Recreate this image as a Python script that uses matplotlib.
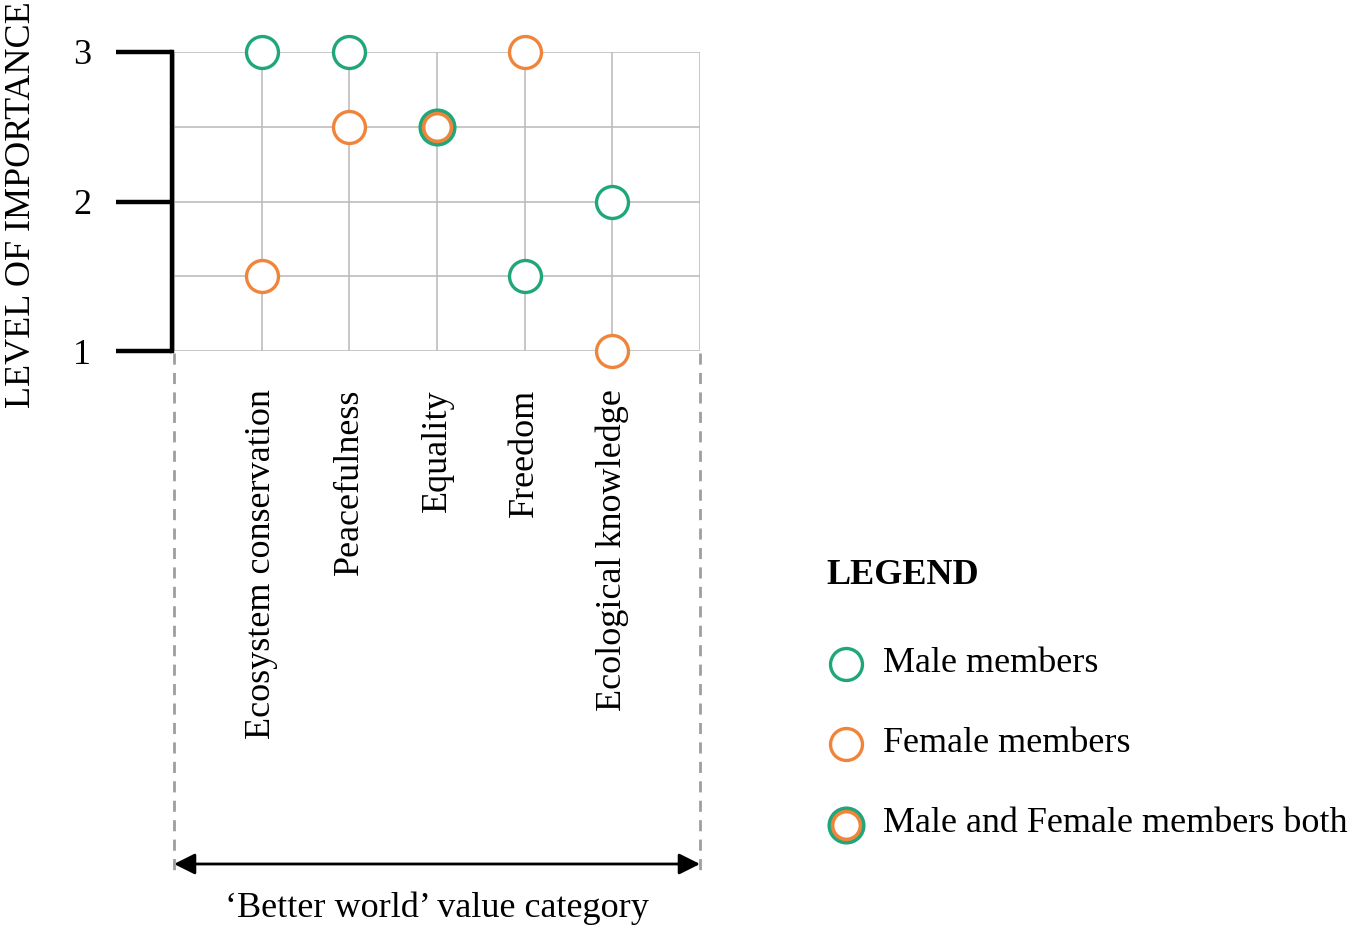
import numpy as np
import matplotlib.pyplot as plt
import matplotlib.transforms as mtransforms
from matplotlib.lines import Line2D

plt.rcParams['font.family'] = ['Liberation Serif', 'DejaVu Serif']

categories = ["Ecosystem conservation", "Peacefulness", "Equality", "Freedom", "Ecological knowledge"]
male = [3, 3, 2.5, 1.5, 2]
female = [1.5, 2.5, 2.5, 3, 1]
y_ticks = [1, 2, 3]

green = '#1fa67a'
orange = '#f0843a'
FS = 26

W, H = 1355, 936
fig = plt.figure(figsize=(W / 100, H / 100), dpi=100)


# pixel -> figure fraction helpers
def fx(px):
    return px / W


def fy(py):
    return 1 - py / H


def both_marker(x, y, transform=None, **kw):
    # green ring with an orange ring inside it
    args = dict(marker='o', clip_on=False)
    if transform is not None:
        args['transform'] = transform
    a = Line2D([x], [y], ms=24, mfc='white', mec=green, mew=3.4, zorder=3, **args)
    b = Line2D([x], [y], ms=20, mfc='none', mec=orange, mew=2.6, zorder=4, **args)
    return a, b


ax = fig.add_axes([fx(174), fy(351), fx(700) - fx(174), fy(52) - fy(351)])
xs = np.arange(1, len(categories) + 1)
ax.set_xlim(0, len(categories) + 1)
ax.set_ylim(1, 3)

# grid
for gx in range(0, len(categories) + 2):
    ax.axvline(gx, color='#bdbdbd', lw=1.2, zorder=1)
for gy in np.arange(1, 3.01, 0.5):
    ax.axhline(gy, color='#bdbdbd', lw=1.2, zorder=1)

# points
for x, m, f in zip(xs, male, female):
    if m == f:
        for art in both_marker(x, m, transform=ax.transData):
            ax.add_line(art)
    else:
        ax.plot(x, m, 'o', ms=23, mfc='white', mec=green, mew=2.4, clip_on=False, zorder=3)
        ax.plot(x, f, 'o', ms=23, mfc='white', mec=orange, mew=2.4, clip_on=False, zorder=3)

# bracket style y axis
for s in ['top', 'right', 'bottom']:
    ax.spines[s].set_visible(False)
ax.spines['left'].set_linewidth(3.2)
ax.spines['left'].set_color('black')
ax.spines['left'].set_position(('outward', 1.5))
ax.set_yticks(y_ticks)
ax.set_yticklabels([str(t) for t in y_ticks], fontsize=FS)
ax.tick_params(axis='y', length=40, width=3.2, pad=18, colors='black')
ax.set_xticks([])

fig.text(fx(22), fy(205), 'LEVEL OF IMPORTANCE', rotation=90, ha='center', va='center', fontsize=FS)

# category labels, hanging below the grid
offset = mtransforms.ScaledTranslation(0, -38 / 100, fig.dpi_scale_trans)
for x, c in zip(xs, categories):
    ax.text(x, 1, c, rotation=90, ha='center', va='top', fontsize=FS,
            transform=ax.transData + offset, clip_on=False)

# dashed bounds and arrow
for px in [174, 700]:
    fig.add_artist(Line2D([fx(px), fx(px)], [fy(353), fy(877)], color='#9e9e9e', lw=2, ls=(0, (4, 3))))
ax.annotate('', xy=(fx(700), fy(864)), xytext=(fx(174), fy(864)), xycoords='figure fraction',
            textcoords='figure fraction',
            arrowprops=dict(arrowstyle='<|-|>', color='black', lw=2, mutation_scale=32, shrinkA=0, shrinkB=0))
fig.text(fx(437), fy(908), '\u2018Better world\u2019 value category', ha='center', va='center', fontsize=FS)

# legend
fig.text(fx(826), fy(575), 'LEGEND', ha='left', va='center', fontsize=FS, fontweight='bold')
leg_items = [('Male members', 'm'), ('Female members', 'f'), ('Male and Female members both', 'b')]
leg_y = [664, 744, 825]
for (lab, kind), py in zip(leg_items, leg_y):
    if kind == 'b':
        for art in both_marker(fx(846), fy(py), transform=fig.transFigure):
            fig.add_artist(art)
    else:
        fig.add_artist(Line2D([fx(846)], [fy(py)], marker='o', ms=23, mfc='white',
                              mec=green if kind == 'm' else orange, mew=2.4))
    fig.text(fx(883), fy(py - 1), lab, ha='left', va='center', fontsize=FS)

fig.savefig('out.png', dpi=100, facecolor='white')
